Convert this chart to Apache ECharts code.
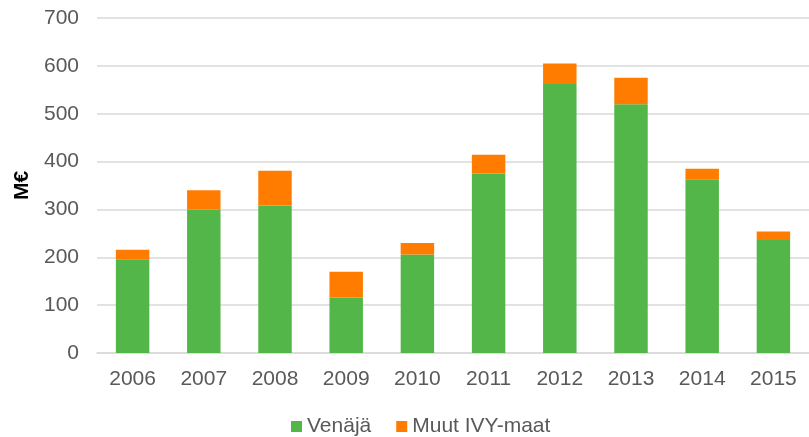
<!DOCTYPE html>
<html>
<head>
<meta charset="utf-8">
<script src="https://cdn.jsdelivr.net/npm/echarts@6/dist/echarts.min.js"></script>
<style>
  html, body { margin: 0; padding: 0; background: #fff; }
  #chart { width: 809px; height: 437px; }
</style>
</head>
<body>
<div id="chart"></div>
<script>
// vuodet
var years = ['2006', '2007', '2008', '2009', '2010', '2011', '2012', '2013', '2014', '2015'];
// Venäjä, M€
var russia = [196, 300, 308, 116, 206, 375, 562, 520, 363, 236];
// Muut IVY-maat, M€
var otherCis = [20, 40, 73, 54, 24, 39, 43, 55, 22, 18];
var yTicks = [0, 100, 200, 300, 400, 500, 600, 700];

var chart = echarts.init(document.getElementById('chart'));
var font = 'Liberation Sans, Arial, sans-serif';

chart.setOption({
    animation: false,
    textStyle: { fontFamily: font },
    grid: { left: 97, right: 0, top: 18, bottom: 84, containLabel: false },
    legend: {
        top: 411,
        left: 286,
        itemWidth: 11,
        itemHeight: 11,
        itemGap: 25,
        icon: 'rect',
        textStyle: { fontSize: 21, color: '#595959', fontFamily: font },
        data: ['Venäjä', 'Muut IVY-maat']
    },
    xAxis: {
        type: 'category',
        data: years,
        axisTick: { show: false },
        axisLine: { lineStyle: { color: '#d9d9d9', width: 1.5 } },
        axisLabel: { fontSize: 21, color: '#595959', margin: 16 }
    },
    yAxis: {
        type: 'value',
        min: yTicks[0],
        max: yTicks[yTicks.length - 1],
        interval: 100,
        name: 'M€',
        nameLocation: 'middle',
        nameRotate: 90,
        nameGap: 63,
        nameTextStyle: { fontSize: 21, fontWeight: 'bold', color: '#000' },
        axisLine: { show: false },
        axisTick: { show: false },
        axisLabel: { fontSize: 21, color: '#595959', margin: 18 },
        splitLine: { lineStyle: { color: '#d9d9d9', width: 1.5 } }
    },
    series: [
        {
            name: 'Venäjä',
            type: 'bar',
            stack: 'total',
            barWidth: '47%',
            data: russia,
            itemStyle: { color: '#53B648' }
        },
        {
            name: 'Muut IVY-maat',
            type: 'bar',
            stack: 'total',
            data: otherCis,
            itemStyle: { color: '#FF7C00' }
        }
    ]
});
</script>
</body>
</html>
